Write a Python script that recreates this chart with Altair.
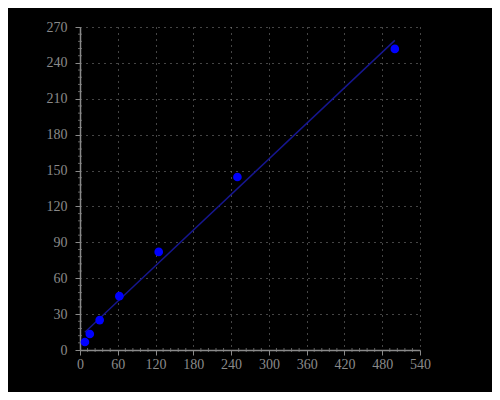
import altair as alt
import pandas as pd

conc = [7.8, 15.6, 31.25, 62.5, 125, 250, 500]
signal = [6.7, 13.4, 25.0, 45.0, 82.0, 144.6, 251.7]

x_major = list(range(0, 541, 60))
y_major = list(range(0, 271, 30))
x_minor = [v for v in range(0, 541, 12) if v % 60 != 0]
y_minor = [v for v in range(0, 271, 6) if v % 30 != 0]

W, H = 340, 323

df = pd.DataFrame({"x": conc, "y": signal})
dfx = pd.DataFrame({"x": x_minor})
dfy = pd.DataFrame({"y": y_minor})

font = "Liberation Serif"
gray = "#8a8a8a"

xs = alt.Scale(domain=[0, 540], nice=False, zero=False)
ys = alt.Scale(domain=[0, 270], nice=False, zero=False)


def ax(vals, pad):
    return alt.Axis(values=vals, title=None, grid=True, labelOverlap=False,
                    labelFlush=False, labelBound=False,
                    gridDash=[1, 5], gridColor="#8a8a8a", gridWidth=1,
                    domainColor=gray, tickColor=gray, tickSize=5,
                    labelColor=gray, labelFont=font, labelFontSize=14,
                    labelPadding=pad, domainWidth=1.5)


X = alt.X("x:Q", scale=xs, axis=ax(x_major, 2))
Y = alt.Y("y:Q", scale=ys, axis=ax(y_major, 8))

points = alt.Chart(df).mark_circle(size=75, color="#0000ff", opacity=1).encode(x=X, y=Y)

line = alt.Chart(df).transform_regression("x", "y").mark_line(
    color="#16168f", strokeWidth=1.5).encode(x=X, y=Y)

xminor = alt.Chart(dfx).mark_tick(color=gray, thickness=1, size=4, orient="vertical").encode(
    x=X, y=alt.value(H))
yminor = alt.Chart(dfy).mark_tick(color=gray, thickness=1, size=4, orient="horizontal").encode(
    y=Y, x=alt.value(0))

chart = alt.layer(xminor, yminor, line, points).properties(
    width=W, height=H,
    background="black",
    padding={"left": 72, "top": 19, "right": 72, "bottom": 42},
    autosize=alt.AutoSizeParams(type="none"),
).configure_view(stroke=None)

chart.save("out.html", embed_options={"renderer": "svg", "actions": False})
